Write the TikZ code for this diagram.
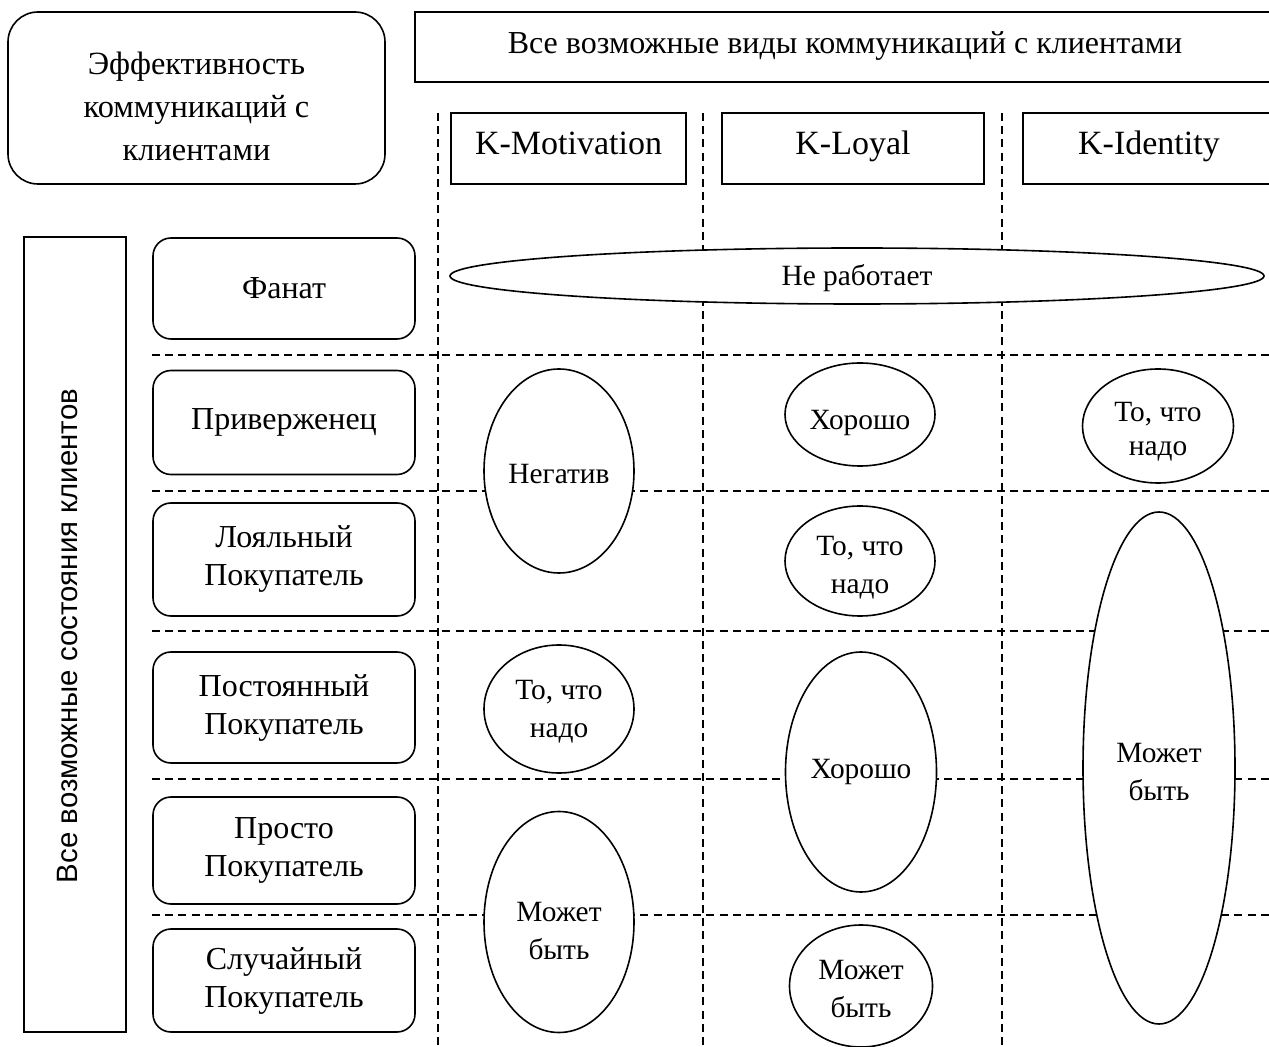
\documentclass[tikz,border=0pt]{standalone}
\usepackage{fontspec}
\setmainfont{Liberation Serif}
\setsansfont{Liberation Sans}
\usetikzlibrary{shapes.geometric}
\tikzset{
  base/.style={font=\fontsize{16pt}{19pt}\selectfont, align=center, inner sep=0pt},
  plainbox/.style={base, draw, line width=0.8pt},
  roundbox/.style={base, draw, line width=0.8pt, rounded corners=9pt},
  oval/.style={draw, ellipse, fill=white, line width=0.8pt, inner sep=0pt},
  ovaltext/.style={base, font=\fontsize{14.7pt}{19pt}\selectfont},
  grid/.style={dash pattern=on 4pt off 2.6pt, line width=0.55pt},
}
\begin{document}
\begin{tikzpicture}[x=0.5pt, y=-0.5pt]
\useasboundingbox[fill=white] (0,0) rectangle (1269,1047);
% grid lines
\foreach \gx in {438,703,1002} \draw[grid] (\gx,113) -- (\gx,1047);
\foreach \gy in {355,491,631,779,915} \draw[grid] (152,\gy) -- (1269,\gy);
% top-left
\node[roundbox, rounded corners=15pt, minimum width=188.5pt, minimum height=86pt] (eff) at (196.5,98) {};
\node[base, font=\fontsize{16.2pt}{21.5pt}\selectfont] (efft) at (196.5,106) {Эффективность\\коммуникаций с\\клиентами};
% top header
\node[plainbox, minimum width=430pt, minimum height=35pt] (all) at (845,47) {};
\node[base] (allt) at (845,46) {Все возможные виды коммуникаций с клиентами};
\node[plainbox, minimum width=117.5pt, minimum height=35.5pt] (km) at (568.5,148.5) {};
\node[plainbox, minimum width=131pt, minimum height=35.5pt] (kl) at (853,148.5) {};
\node[plainbox, minimum width=126pt, minimum height=35.5pt] (ki) at (1149,148.5) {};
\foreach \nm/\cx/\tx in {km/568.5/K-Motivation, kl/853/K-Loyal, ki/1149/K-Identity}
  \node[base, font=\fontsize{17pt}{19pt}\selectfont, anchor=base] (\nm t) at (\cx,155) {\tx};
% left vertical
\node[draw, line width=0.8pt, minimum width=51pt, minimum height=397.5pt, inner sep=0pt] (states) at (75,634.5) {};
\node[base, font=\sffamily\fontsize{14.7pt}{19pt}\selectfont, rotate=90] (statest) at (68,636) {Все возможные состояния клиентов};
% row boxes
\node[roundbox, minimum width=131pt, minimum height=50.5pt] (r1) at (284,288.5) {Фанат};
\node[roundbox, minimum width=131pt, minimum height=52pt] (r2) at (284,422.5) {Приверженец};
\node[roundbox, minimum width=131pt, minimum height=56.5pt] (r3) at (284,559.5) {Лояльный\\Покупатель};
\node[roundbox, minimum width=131pt, minimum height=55.5pt] (r4) at (284,707.5) {Постоянный\\Покупатель};
\node[roundbox, minimum width=131pt, minimum height=53.5pt] (r5) at (284,850.5) {Просто\\Покупатель};
\node[roundbox, minimum width=131pt, minimum height=51.5pt] (r6) at (284,980.5) {Случайный\\Покупатель};
% ellipses
\node[oval, minimum width=407pt, minimum height=28pt] (e1) at (857,276) {};
\node[ovaltext] (e1t) at (857,278) {Не работает};
\node[oval, minimum width=75pt, minimum height=102pt] (e2) at (559,471) {};
\node[ovaltext] (e2t) at (559,474) {Негатив};
\node[oval, minimum width=75pt, minimum height=51.5pt] (e3) at (860,414.5) {};
\node[ovaltext] (e3t) at (860,423) {Хорошо};
\node[oval, minimum width=75.5pt, minimum height=57pt] (e4) at (1158,426) {};
\node[ovaltext, font=\fontsize{14.7pt}{17pt}\selectfont] (e4t) at (1158,432) {То, что\\надо};
\node[oval, minimum width=75pt, minimum height=55pt] (e5) at (860,561) {};
\node[ovaltext] (e5t) at (860,568) {То, что\\надо};
\node[oval, minimum width=75pt, minimum height=64pt] (e6) at (559,709) {};
\node[ovaltext] (e6t) at (559,712) {То, что\\надо};
\node[oval, minimum width=75.5pt, minimum height=120pt] (e7) at (861,772) {};
\node[ovaltext] (e7t) at (861,772) {Хорошо};
\node[oval, minimum width=75pt, minimum height=110.5pt] (e8) at (559,922) {};
\node[ovaltext] (e8t) at (559,931) {Может\\быть};
\node[oval, minimum width=71.5pt, minimum height=61pt] (e9) at (861,986) {};
\node[ovaltext] (e9t) at (861,989) {Может\\быть};
\node[oval, minimum width=76pt, minimum height=256pt] (e10) at (1159,768) {};
\node[ovaltext] (e10t) at (1159,772) {Может\\быть};
\end{tikzpicture}
\end{document}
